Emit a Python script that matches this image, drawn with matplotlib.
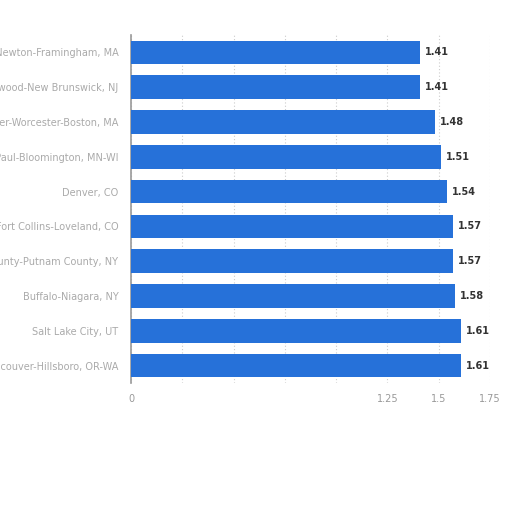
import matplotlib
matplotlib.use("Agg")
import matplotlib.pyplot as plt

categories = [
    "Boston-Cambridge-Newton-Framingham, MA",
    "Lakewood-New Brunswick, NJ",
    "Webster-Worcester-Boston, MA",
    "Minneapolis-St. Paul-Bloomington, MN-WI",
    "Denver, CO",
    "Fort Collins-Loveland, CO",
    "Dutchess County-Putnam County, NY",
    "Buffalo-Niagara, NY",
    "Salt Lake City, UT",
    "Portland-Vancouver-Hillsboro, OR-WA",
]
values = [1.41, 1.41, 1.48, 1.51, 1.54, 1.57, 1.57, 1.58, 1.61, 1.61]
tick_values = [0, 0.25, 0.5, 0.75, 1.0, 1.25, 1.5, 1.75]
tick_labels = ["0", "", "", "", "", "1.25", "1.5", "1.75"]

fig = plt.figure(figsize=(5.12, 5.12), dpi=100)
ax = fig.add_axes([131/512, 1-383/512, (490-131)/512, (383-35)/512])

y = list(range(len(categories)))
ax.barh(y, values, height=0.68, color="#2671d9", zorder=3)
ax.set_ylim(len(categories)-0.5, -0.5)
ax.set_xlim(0, 1.75)
ax.set_yticks(y)
ax.set_yticklabels(categories, fontsize=7, color="#aaaaaa")
ax.set_xticks(tick_values)
ax.set_xticklabels(tick_labels, fontsize=7, color="#999999")
ax.tick_params(axis="both", length=0, pad=9)
ax.tick_params(axis="x", pad=8)
ax.grid(axis="x", linestyle=(0, (1, 2)), color="#cccccc", linewidth=0.8, zorder=0)

for i, v in enumerate(values):
    ax.text(v + 0.025, i, f"{v:.2f}", va="center", ha="left", fontsize=7,
            color="#333333", fontweight="bold")

for s in ["top", "right", "bottom"]:
    ax.spines[s].set_visible(False)
ax.spines["left"].set_color("#999999")
ax.spines["left"].set_linewidth(1.2)

fig.savefig("out.png", dpi=100)
